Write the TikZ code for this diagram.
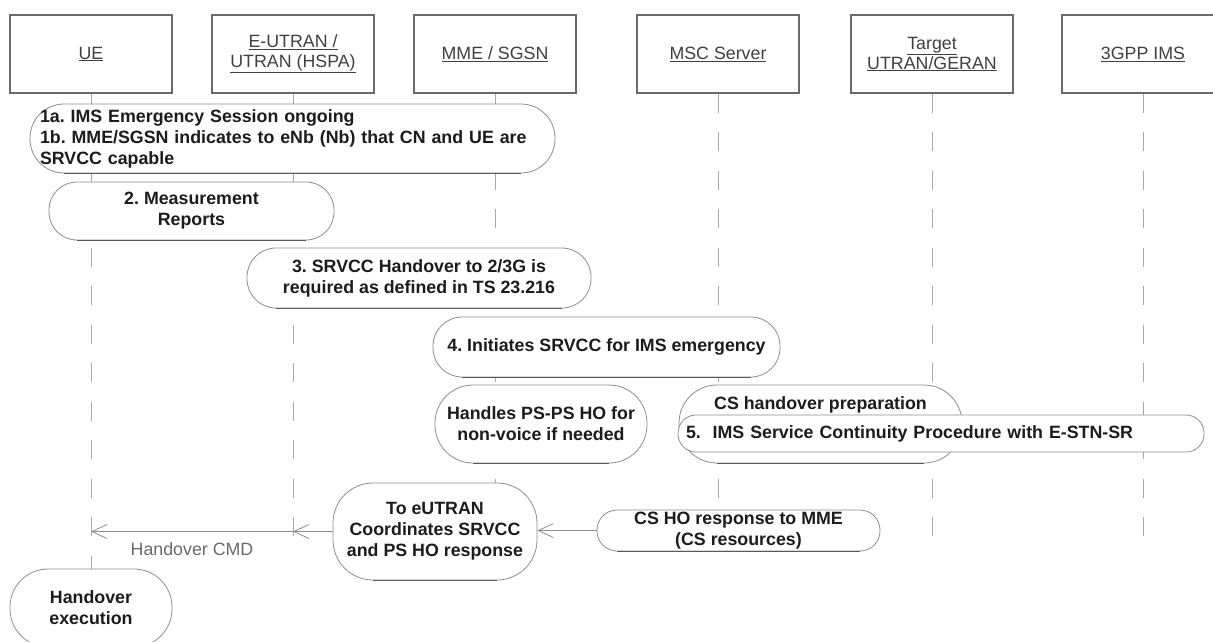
\documentclass[tikz,border=0pt]{standalone}
\usepackage{fontspec}
\setmainfont{Liberation Sans}
\usetikzlibrary{arrows.meta, positioning, backgrounds}
\definecolor{lGray}{HTML}{A8A8A8}
\definecolor{bGray}{HTML}{8E8E8E}
\definecolor{hGray}{HTML}{6A6A6A}
\definecolor{tDark}{HTML}{1C1C1C}
\newcommand{\stepfont}{\fontsize{17.8}{21}\selectfont\bfseries}
\newcommand{\hdrfont}{\fontsize{17.8}{20}\selectfont}
\frenchspacing

\tikzset{
  actor/.style={draw=hGray, line width=1.3pt, minimum width=162pt, minimum height=78pt,
    align=center, font=\hdrfont, text=black!75},
  lifeline/.style={lGray, line width=1pt, dash pattern=on 19pt off 19.5pt},
  stepbox/.style={draw=bGray, line width=0.8pt, fill=white, align=center,
    font=\stepfont, text=tDark, inner sep=0pt},
  shadeline/.style={line width=1.6pt, black!65},
  msg/.style={bGray, line width=0.8pt, -{Straight Barb[length=15pt,width=14pt]}},
}

\begin{document}
\begin{tikzpicture}[x=1pt, y=-1pt]
    \useasboundingbox (0,0) rectangle (1213,642);
    \clip (0,0) rectangle (1213,642);

    % actors
    \node[actor] (ue)  at (91,54)   {\underline{UE}};
    \node[actor] (enb) at (293,54)  {\underline{E-UTRAN /}\\\underline{UTRAN (HSPA)}};
    \node[actor] (mme) at (495,54)  {\underline{MME / SGSN}};
    \node[actor] (msc) at (718,54)  {\underline{MSC Server}};
    \node[actor] (tgt) at (932,54)  {\underline{Target}\\\underline{UTRAN/GERAN}};
    \node[actor] (ims) at (1143,54) {\underline{3GPP IMS}};

    % steps
    \node[stepbox, minimum width=525pt, minimum height=69pt, rounded corners=34pt,
      align=left, text width=505pt] (s1) at (292.5,138.5)
      {1a. IMS Emergency Session ongoing\\1b. MME/SGSN indicates to eNb (Nb) that CN and UE are\\SRVCC capable};
    \node[stepbox, minimum width=285pt, minimum height=58pt, rounded corners=28pt] (s2) at (191.5,211)
      {2. Measurement\\Reports};
    \node[stepbox, minimum width=344pt, minimum height=60pt, rounded corners=29pt] (s3) at (419,278)
      {3. SRVCC Handover to 2/3G is\\required as defined in TS 23.216};
    \node[stepbox, minimum width=347pt, minimum height=60pt, rounded corners=29pt] (s4) at (606.5,347)
      {4. Initiates SRVCC for IMS emergency};
    \node[stepbox, minimum width=212pt, minimum height=78pt, rounded corners=38pt] (psho) at (541,424)
      {Handles PS-PS HO for\\non-voice if needed};
    \node[stepbox, minimum width=283pt, minimum height=78pt, rounded corners=38pt,
      label={[font=\stepfont, text=tDark, anchor=center, yshift=-20pt]north:CS handover preparation}]
      (csprep) at (820.5,424) {};
    \node[stepbox, minimum width=526pt, minimum height=37pt, rounded corners=18pt,
      align=left, text width=510pt] (s5) at (941,433.5)
      {5.\ \ IMS Service Continuity Procedure with E-STN-SR};
    \node[stepbox, minimum width=283pt, minimum height=41pt, rounded corners=20pt] (csresp) at (738.5,530.5)
      {CS HO response to MME\\(CS resources)};
    \node[stepbox, minimum width=204pt, minimum height=97pt, rounded corners=40pt] (toeut) at (435,531.5)
      {To eUTRAN\\Coordinates SRVCC\\and PS HO response};
    \node[stepbox, minimum width=162pt, minimum height=78pt, rounded corners=38pt] (hoexec) at (91,608)
      {Handover\\execution};

    % darker bottom edges
    \foreach \b/\rad in {s1/34, s2/28, s3/29, s4/29, psho/38, csprep/38, toeut/40, csresp/20}
      \draw[shadeline] ([xshift=\rad pt]\b.south west) -- ([xshift=-\rad pt]\b.south east);

    % lifelines
    \coordinate (lineend) at (0,540);
    \begin{scope}[on background layer]
      \draw[lifeline] (ue.south)  -- (hoexec.north);
      \draw[lifeline] (enb.south) -- (enb |- lineend);
      \draw[lifeline] (mme.south) -- (toeut.north -| mme);
      \draw[lifeline] (msc.south) -- (csresp.north -| msc);
      \draw[lifeline] (tgt.south) -- (tgt |- lineend);
      \draw[lifeline] (ims.south) -- (ims |- lineend);
    \end{scope}

    % messages
    \draw[msg] (csresp.west) -- (csresp.west -| toeut.east);
    \draw[msg] (toeut.west) -- (enb |- toeut.west);
    \draw[msg] (enb |- toeut.west) -- (ue |- toeut.west)
      node[midway, yshift=-18pt, font=\hdrfont, text=hGray] (hocmd) {Handover CMD};
\end{tikzpicture}
\end{document}
